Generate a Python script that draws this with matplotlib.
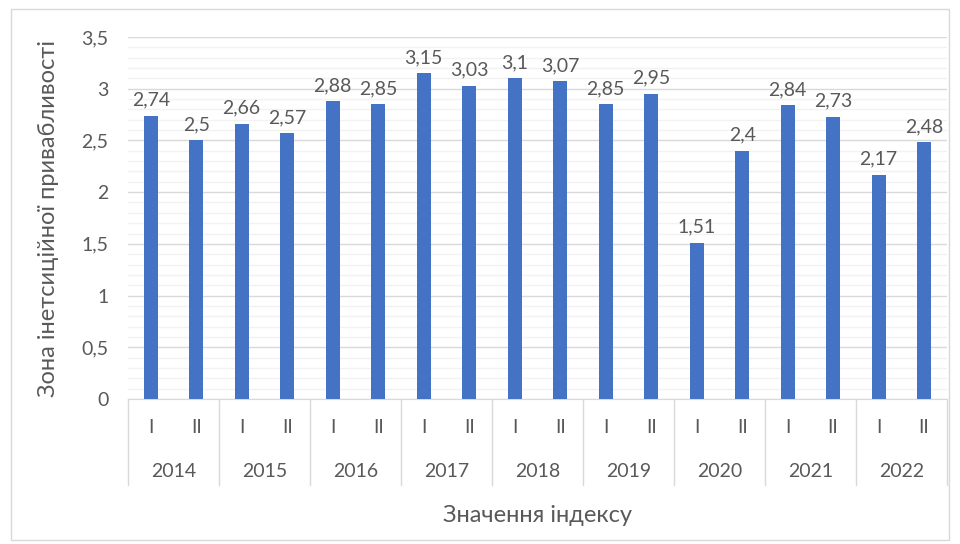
import numpy as np
import matplotlib.pyplot as plt
from matplotlib.patches import Rectangle

years = ['2014', '2015', '2016', '2017', '2018', '2019', '2020', '2021', '2022']
halves = ['I', 'II']
values = [2.74, 2.5, 2.66, 2.57, 2.88, 2.85, 3.15, 3.03, 3.1, 3.07,
          2.85, 2.95, 1.51, 2.4, 2.84, 2.73, 2.17, 2.48]

plt.rcParams['font.family'] = ['Lato', 'DejaVu Sans']
txt = '#595959'

fig = plt.figure(figsize=(9.6, 5.44), dpi=100)
fig.patches.append(Rectangle((0.011, 0.008), 0.978, 0.975, transform=fig.transFigure,
                             fill=False, edgecolor='#D9D9D9', linewidth=1))
ax = fig.add_axes([0.1333, 0.2665, 0.853, 0.6655])

x = np.arange(len(values))
ax.bar(x, values, width=0.31, color='#4472C4', zorder=3)
for xi, v in zip(x, values):
    ax.text(xi, v + 0.07, f'{v:g}'.replace('.', ','), ha='center', va='bottom',
            fontsize=14, color=txt)

ax.set_xlim(-0.5, len(values) - 0.5)
ax.set_ylim(0, 3.5)
ax.set_yticks(np.arange(0, 3.51, 0.5))
ax.set_yticklabels([f'{t:g}'.replace('.', ',') for t in np.arange(0, 3.51, 0.5)])
ax.set_yticks(np.arange(0, 3.51, 0.1), minor=True)
ax.grid(axis='y', which='major', color='#D9D9D9', linewidth=1, zorder=0)
ax.grid(axis='y', which='minor', color='#F2F2F2', linewidth=1, zorder=0)
ax.tick_params(axis='y', which='both', length=0, labelsize=14, labelcolor=txt, pad=14)
ax.set_xticks([])
for s in ['top', 'right', 'left']:
    ax.spines[s].set_visible(False)
ax.spines['bottom'].set_color('#D9D9D9')

trans = ax.get_xaxis_transform()
for i in range(len(values)):
    ax.text(i, -0.08, halves[i % 2], transform=trans, ha='center', va='center',
            fontsize=14, color=txt)
for j, yr in enumerate(years):
    ax.text(2 * j + 0.5, -0.2, yr, transform=trans, ha='center', va='center',
            fontsize=14, color=txt)
for k in range(len(years) + 1):
    ax.plot([2 * k - 0.5, 2 * k - 0.5], [0, -0.238], transform=trans,
            color='#D9D9D9', linewidth=1, clip_on=False)

ax.set_ylabel('Зона інетсиційної привабливості', fontsize=17, color=txt, labelpad=16)
ax.set_xlabel('Значення індексу', fontsize=17, color=txt, labelpad=76)

fig.savefig('out.png', dpi=100)
